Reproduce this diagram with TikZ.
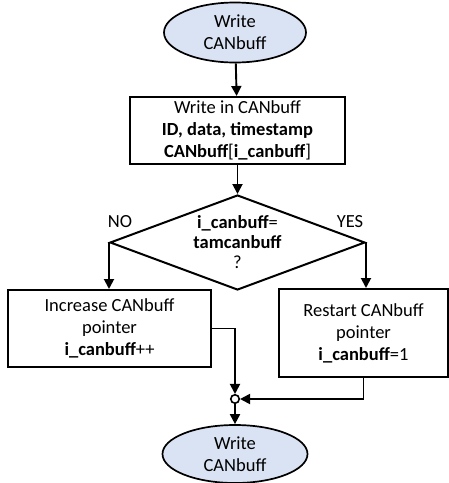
\documentclass[tikz,border=0pt]{standalone}
\usepackage{fontspec}
\setmainfont{Carlito}
\usetikzlibrary{shapes.geometric,arrows.meta}
\definecolor{termfill}{HTML}{DAE3F3}
\begin{document}
\begin{tikzpicture}[x=1pt,y=-1pt,
  every node/.style={font=\fontsize{18.5}{22}\selectfont},
  terminal/.style={ellipse,draw,line width=1.7pt,fill=termfill,align=center,inner sep=0pt},
  procbox/.style={rectangle,draw,line width=2pt,align=center,inner sep=0pt},
  decision/.style={diamond,draw,line width=2pt,inner sep=0pt},
  joint/.style={circle,draw,line width=1.6pt,fill=white,inner sep=0pt,minimum size=8.5pt},
  flow/.style={line width=1.9pt,-{Triangle[length=10pt,width=10pt]}},
  tag/.style={font=\fontsize{18.5}{22}\selectfont}]
\useasboundingbox (0,0) rectangle (449,483);

\node[terminal,minimum width=142pt,minimum height=60pt] (start) at (235,32.5) {Write\\CANbuff};
\node[procbox,minimum width=215pt,minimum height=67pt] (write) at (237.5,130.5)
  {Write in CANbuff\\\textbf{ID, data, timestamp}\\\textbf{CANbuff}[\textbf{i\_canbuff}]};
\node[decision,minimum width=255pt,minimum height=95pt,
  label={[align=center,font=\fontsize{18.5}{20}\selectfont]center:\textbf{i\_canbuff}=\\\textbf{tamcanbuff}\\?}] (check) at (237.5,242.5) {};
\node[procbox,minimum width=203pt,minimum height=77pt] (incr) at (109.5,328.5)
  {Increase CANbuff\\pointer\\\textbf{i\_canbuff}++};
\node[procbox,minimum width=169pt,minimum height=88pt] (reset) at (363.5,333)
  {Restart CANbuff\\pointer\\\textbf{i\_canbuff}=1};
\node[joint] (merge) at (235,399) {};
\node[terminal,minimum width=145pt,minimum height=58pt] (stop) at (235,454) {Write\\CANbuff};

\node[tag] (no) at (120,222) {NO};
\node[tag] (yes) at (350,222) {YES};

\draw[flow] (start) -- (write);
\draw[flow] (write) -- (check);
\draw[flow] (check.west) -- (check.west |- incr.north);
\draw[flow] (check.east) -- (check.east |- reset.north);
\draw[flow] (incr.east) -| (merge.north);
\draw[flow] (reset.south) |- (merge.east);
\draw[flow] (merge) -- (stop);
\end{tikzpicture}
\end{document}
